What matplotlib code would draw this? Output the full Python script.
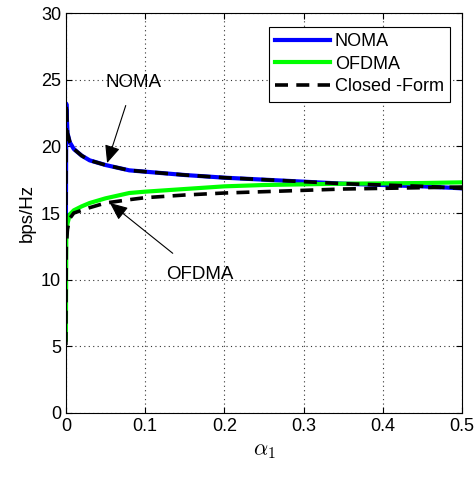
import matplotlib
matplotlib.use('Agg')
import matplotlib.pyplot as plt

plt.rcParams['font.family'] = ['Liberation Sans', 'DejaVu Sans']
plt.rcParams['mathtext.fontset'] = 'cm'

alpha = [0, 0.0005, 0.002, 0.005, 0.01, 0.02, 0.03, 0.05, 0.08, 0.1,
         0.15, 0.2, 0.25, 0.3, 0.35, 0.4, 0.45, 0.5]
noma = [14.0, 23.2, 21.0, 20.3, 19.8, 19.3, 18.95, 18.6, 18.2, 18.1,
        17.85, 17.65, 17.5, 17.35, 17.2, 17.1, 17.0, 16.85]
ofdma = [5.5, 13.0, 14.2, 14.9, 15.2, 15.5, 15.75, 16.1, 16.5, 16.6,
         16.8, 17.0, 17.1, 17.15, 17.2, 17.22, 17.25, 17.3]
cf_noma = noma
cf_ofdma = [5.1, 12.5, 13.8, 14.6, 15.0, 15.2, 15.4, 15.75, 16.0, 16.15,
            16.35, 16.5, 16.6, 16.7, 16.8, 16.85, 16.9, 16.95]

fig = plt.figure(figsize=(4.74, 4.83), dpi=100, facecolor='white')
ax = fig.add_axes([0.139, 0.145, 0.836, 0.828])

ax.plot(alpha, noma, color='#0000ff', lw=3, label='NOMA')
ax.plot(alpha, ofdma, color='#00ff00', lw=3, label='OFDMA')
ax.plot(alpha, cf_noma, 'k--', lw=2.6, dashes=(3.6, 2.3), label='Closed -Form')
ax.plot(alpha, cf_ofdma, 'k--', lw=2.6, dashes=(3.6, 2.3))

ax.set_xlim(0, 0.5)
ax.set_ylim(0, 30)
ax.set_xticks([0, 0.1, 0.2, 0.3, 0.4, 0.5])
ax.set_xticklabels(['0', '0.1', '0.2', '0.3', '0.4', '0.5'])
ax.set_yticks(range(0, 31, 5))
ax.tick_params(direction='in', labelsize=13, top=True, right=True, length=4)
ax.grid(True, linestyle=(0, (1, 3)), color='#333333', lw=0.8)
for s in ax.spines.values():
    s.set_linewidth(0.8)

ax.set_xlabel(r'$\alpha_1$', fontsize=16)
ax.set_ylabel('bps/Hz', fontsize=13.5)

ax.annotate('NOMA', xy=(0.052, 18.75), xytext=(0.085, 24.8), fontsize=13.5,
            ha='center', va='center',
            arrowprops=dict(arrowstyle='-|>,head_length=0.8,head_width=0.35',
                            lw=0.8, color='k', shrinkA=9, shrinkB=0))
ax.annotate('OFDMA', xy=(0.0556, 15.75), xytext=(0.169, 10.35), fontsize=13.5,
            ha='center', va='center',
            arrowprops=dict(arrowstyle='-|>,head_length=0.8,head_width=0.35',
                            lw=0.8, color='k', shrinkA=12, shrinkB=0))

leg = ax.legend(loc='upper right', fontsize=13, fancybox=False, framealpha=1,
                edgecolor='k', handlelength=3.0, borderpad=0.35,
                labelspacing=0.3, handletextpad=0.3, borderaxespad=0,
                bbox_to_anchor=(0.97, 0.965))
leg.get_frame().set_linewidth(0.8)

fig.savefig('out.png', dpi=100, facecolor='white')
